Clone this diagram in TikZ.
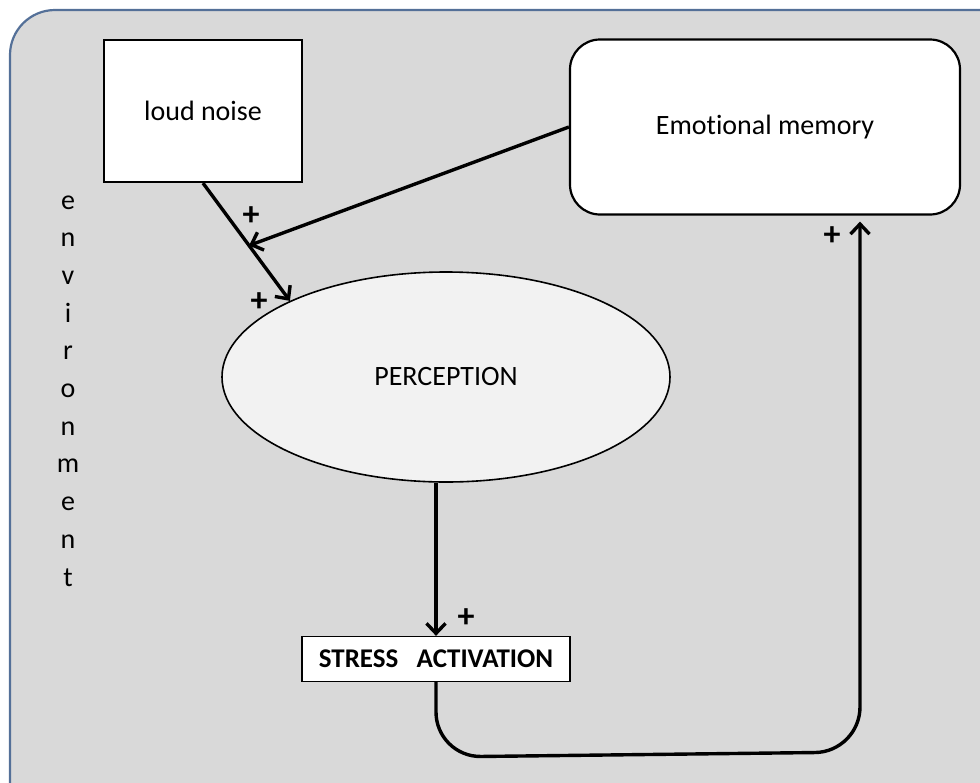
\documentclass[tikz,border=0pt]{standalone}
\usepackage{fontspec}
\setmainfont{Carlito}[Ligatures=NoCommon]
\usetikzlibrary{arrows.meta,shapes.geometric}
\definecolor{envfill}{RGB}{217,217,217}
\definecolor{envline}{RGB}{84,112,152}
\definecolor{percfill}{RGB}{242,242,242}
\tikzset{
  txt/.style={font=\fontsize{28}{32}\selectfont},
  box/.style={draw, line width=2.2pt, fill=white, inner sep=0pt, txt},
  arr/.style={line width=3.4pt, -{Straight Barb[length=10pt,width=19pt]}},
  plus/.style={font=\fontsize{34}{36}\selectfont\bfseries}
}
\begin{document}
\begin{tikzpicture}[x=1pt,y=-1pt]
\useasboundingbox (0,0) rectangle (980,782);
\begin{scope}
\clip (0,0) rectangle (980,782);
\draw[envline, line width=2.2pt, fill=envfill, rounded corners=45pt] (10,10) rectangle (1030,830);
\end{scope}

% boxes
\node[box, minimum width=198pt, minimum height=142pt] (noise) at (203,111) {loud noise};
\node[box, rounded corners=30pt, minimum width=390pt, minimum height=175pt] (memory) at (765,127) {Emotional memory};
\node[draw, ellipse, line width=1.6pt, fill=percfill, minimum width=448pt, minimum height=210pt, inner sep=0pt, txt] (perc) at (446,377) {PERCEPTION};
\node[box, line width=1.3pt, minimum width=268pt, minimum height=45pt, font=\fontsize{27}{30}\selectfont\bfseries] (stress) at (436,659) {STRESS\ \ \ ACTIVATION};

% environment
\foreach \ch [count=\i from 0] in {e,n,v,i,r,o,n,m,e,n,t}{
\node[txt, anchor=base] (env\i) at (68,209+37.7*\i) {\ch};
}

% arrows
\draw[arr] (noise.south) -- coordinate[pos=0.53] (join) (perc.154);
\draw[arr] (memory.west) -- (join);
\draw[arr] (perc.south -| stress.north) -- (stress.north);
\coordinate (turn) at (860,0);
\draw[arr, rounded corners=45pt] (stress.south) -- (stress.south |- 0,757) -- (turn |- 0,752) -- ([yshift=-6pt]memory.south -| turn);

% signs
\node[plus] (p1) at (251,216) {+};
\node[plus] (p2) at (259,302) {+};
\node[plus] (p3) at (466,618) {+};
\node[plus] (p4) at (832,236) {+};
\end{tikzpicture}
\end{document}
